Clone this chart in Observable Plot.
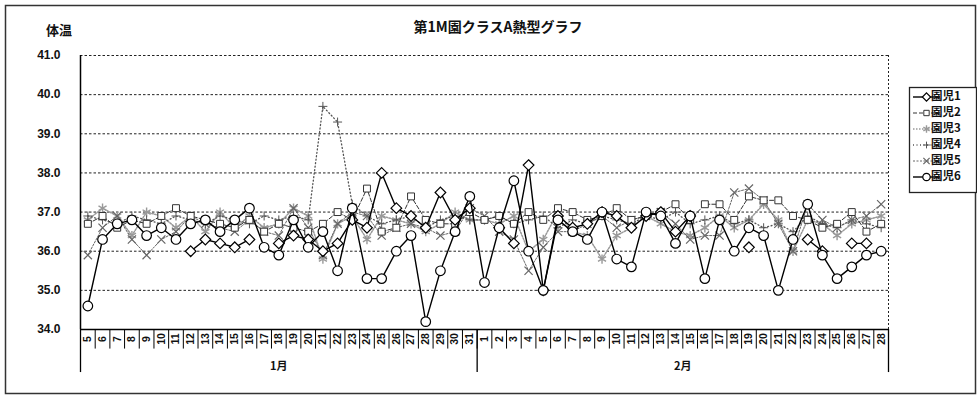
<!DOCTYPE html>
<html><head><meta charset="utf-8">
<script src="https://cdn.jsdelivr.net/npm/d3@7"></script>
<script src="https://cdn.jsdelivr.net/npm/@observablehq/plot@0.6"></script>
<style>
body{margin:0;background:#fff}
#chart{position:relative;width:977px;height:397px}
</style>
</head><body><div id="chart"></div>
<script>
const title = "第1M園クラスA熱型グラフ";
const yLabel = "体温";
const janDays = [5,6,7,8,9,10,11,12,13,14,15,16,17,18,19,20,21,22,23,24,25,26,27,28,29,30,31];
const febDays = [1,2,3,4,5,6,7,8,9,10,11,12,13,14,15,16,17,18,19,20,21,22,23,24,25,26,27,28];
const months = ["1月","2月"];
const yTicks = [34,35,36,37,38,39,40,41];
const names = ["園児1","園児2","園児3","園児4","園児5","園児6"];

const child1 = [null,null,null,null,null,null,null,36.0,36.3,36.2,36.1,36.3,null,36.2,36.4,36.3,36.0,36.2,36.8,36.6,38.0,37.1,36.9,36.6,37.5,36.8,37.1,
  null,36.6,36.2,38.2,35.0,36.9,36.6,36.7,37.0,36.9,36.6,36.9,37.0,36.5,36.9,null,null,null,36.1,null,null,null,36.3,36.0,null,36.2,36.2,null];
const child2 = [36.7,36.9,36.6,36.8,36.7,36.9,37.1,36.9,36.8,36.7,36.6,36.8,36.5,36.7,36.6,36.5,36.7,37.0,36.8,37.6,36.5,36.6,37.4,36.8,36.7,36.7,37.0,
  36.8,36.9,36.7,37.0,36.8,37.1,37.0,36.8,36.9,37.1,36.8,36.9,37.0,37.2,36.8,37.2,37.2,36.8,37.4,37.3,37.3,36.9,36.8,36.6,36.7,37.0,36.5,36.7];
const child3 = [36.8,37.1,36.9,36.4,37.0,36.9,36.6,36.9,36.5,37.0,36.6,36.9,36.6,36.7,37.1,36.9,35.8,36.7,36.9,36.3,36.9,36.8,36.7,36.5,36.7,37.0,36.8,
  36.8,36.7,36.9,36.0,36.3,37.0,36.5,36.4,35.8,36.4,36.6,36.9,36.7,36.5,36.4,36.6,36.9,36.6,36.8,37.2,36.8,36.0,36.8,36.7,36.4,36.7,36.8,36.9];
const child4 = [36.9,36.8,36.7,36.9,36.8,36.7,36.9,36.8,36.7,36.9,36.8,36.7,36.9,36.8,36.9,36.8,39.7,39.3,37.2,36.9,36.7,36.8,36.9,36.6,36.8,36.9,36.8,
  36.8,36.9,36.7,36.8,36.9,36.6,36.8,36.7,36.9,36.8,36.7,36.9,36.8,37.0,36.7,36.8,36.9,36.7,36.8,36.6,36.7,36.5,36.9,36.7,36.6,36.8,36.7,36.6];
const child5 = [35.9,36.6,36.9,36.3,35.9,36.3,36.5,36.9,36.7,36.6,36.5,36.8,36.5,36.4,37.1,36.6,35.9,36.7,37.0,36.9,36.4,36.6,36.7,36.6,36.4,36.5,37.1,
  36.9,36.5,36.3,35.5,36.1,36.5,36.5,36.7,36.9,36.6,36.8,36.9,37.0,36.7,36.3,36.4,36.4,37.5,37.6,37.3,36.7,36.0,37.2,36.8,36.6,36.8,36.9,37.2];
const child6 = [34.6,36.3,36.7,36.8,36.4,36.6,36.3,36.7,36.8,36.5,36.8,37.1,36.1,35.9,36.8,36.1,36.5,35.5,37.1,35.3,35.3,36.0,36.4,34.2,35.5,36.5,37.4,
  35.2,36.6,37.8,36.0,35.0,36.8,36.5,36.3,37.0,35.8,35.6,37.0,36.9,36.2,36.9,35.3,36.8,36.0,36.6,36.4,35.0,36.3,37.2,35.9,35.3,35.6,35.9,36.0];

const series = [child1, child2, child3, child4, child5, child6];
const days = [...janDays, ...febDays].map(String);
const nDays = days.length;

const styles = [
  {stroke:"#000", dash:null, width:1.4, symbol:"diamond2", r:4.8, fill:"white", mw:1.2},
  {stroke:"#333", dash:"4,2", width:1, symbol:"square2", r:4.4, fill:"white", mw:1},
  {stroke:"#999", dash:"1.5,1.5", width:1.5, symbol:"asterisk", r:4.4, fill:"none", mw:1.4},
  {stroke:"#555", dash:"1,2.5", width:1.3, symbol:"plus", r:3, fill:"none", mw:1},
  {stroke:"#666", dash:"2,1.5", width:1, symbol:"times", r:3.8, fill:"none", mw:1.2},
  {stroke:"#000", dash:null, width:1.4, symbol:"circle", r:4.8, fill:"white", mw:1.2}
];

const drawOrder = [2,3,4,1,0,5];
const seriesMarks = [];
for (const k of drawOrder) {
  const pts = series[k].map((v,i)=>({i:i+0.5, v}));
  const s = styles[k];
  seriesMarks.push(Plot.line(pts, {x:"i", y:"v", stroke:s.stroke, strokeWidth:s.width, strokeDasharray:s.dash}));
  seriesMarks.push(Plot.dot(pts.filter(d=>d.v!=null), {x:"i", y:"v", symbol:s.symbol, r:s.r, stroke:s.stroke, fill:s.fill, strokeWidth:s.mw}));
}

const bold = "bold";
const plot = Plot.plot({
  width: 977, height: 397,
  marginLeft: 80, marginRight: 89, marginTop: 55, marginBottom: 68,
  x: {domain:[0, nDays], axis:null},
  y: {domain:[34, 41], axis:null},
  style: {background:"white", fontFamily:"'Liberation Sans', Arial, sans-serif", overflow:"visible"},
  marks: [
    Plot.ruleY(yTicks.filter(t=>t>34), {stroke:"#222", strokeDasharray:"2.5,2", strokeWidth:1}),
    Plot.ruleX([nDays], {y1:34, y2:41, stroke:"#222", strokeDasharray:"2,2", strokeWidth:1}),
    ...seriesMarks,
    Plot.ruleX(d3.range(1, nDays), {y1:33.5, y2:34, stroke:"#000", strokeWidth:1}),
    Plot.ruleX([0, janDays.length, nDays], {y1:32.9, y2:34, stroke:"#000", strokeWidth:1.3}),
    Plot.ruleX([0], {y1:34, y2:41, stroke:"#000", strokeWidth:1.5}),
    Plot.ruleY([34], {x1:0, x2:nDays, stroke:"#000", strokeWidth:1.5}),
    Plot.text(yTicks, {x:0, y:d=>d, text:d=>d.toFixed(1), textAnchor:"end", dx:-20, fontSize:12, fontWeight:bold, fill:"#111"}),
    Plot.text(days, {x:(d,i)=>i+0.5, y:34, text:d=>d, rotate:-90, dy:9.5, fontSize:10.5, fontWeight:bold, fill:"#111"}),
    Plot.text(months, {x:(d,i)=> i===0 ? janDays.length/2 : janDays.length + febDays.length/2, y:34, dy:37, text:d=>d, fontSize:11, fontWeight:bold, fill:"#111", fontFamily:"'Noto Sans CJK JP', sans-serif"})
  ]
});

const svg = d3.select(plot);
svg.insert("rect", ":first-child").attr("x",5.5).attr("y",5.5).attr("width",970).attr("height",388)
   .attr("fill","white").attr("stroke","#333").attr("stroke-width",1.5);
svg.append("text").attr("x",498).attr("y",28).attr("text-anchor","middle").attr("dominant-baseline","middle")
   .attr("font-family","'Noto Sans CJK JP', sans-serif").attr("font-weight","bold").attr("font-size",14).attr("fill","#111").text(title);
svg.append("text").attr("x",59).attr("y",31).attr("text-anchor","middle").attr("dominant-baseline","middle")
   .attr("font-family","'Noto Sans CJK JP', sans-serif").attr("font-weight","bold").attr("font-size",13).attr("fill","#111").text(yLabel);

// legend
const lg = svg.append("g");
lg.append("rect").attr("x",909.5).attr("y",87.5).attr("width",67).attr("height",105).attr("fill","white").attr("stroke","#222").attr("stroke-width",1.3);
const symMap = {diamond2:d3.symbolDiamond2, square2:d3.symbolSquare2, asterisk:d3.symbolAsterisk, plus:d3.symbolPlus, times:d3.symbolTimes, circle:d3.symbolCircle};
names.forEach((n,k)=>{
  const s = styles[k];
  const y = 97 + k*16;
  lg.append("line").attr("x1",913).attr("x2",940).attr("y1",y).attr("y2",y)
    .attr("stroke",s.stroke).attr("stroke-width",s.width).attr("stroke-dasharray",s.dash);
  lg.append("path").attr("transform",`translate(926.5,${y})`)
    .attr("d", d3.symbol(symMap[s.symbol], Math.PI*s.r*s.r*0.6)())
    .attr("fill",s.fill).attr("stroke",s.stroke).attr("stroke-width",s.mw);
  lg.append("text").attr("x",946).attr("y",y).attr("dominant-baseline","middle")
    .attr("font-family","'Noto Sans CJK JP', sans-serif").attr("font-weight","bold").attr("font-size",11.5).attr("fill","#111").text(n);
});

document.getElementById("chart").appendChild(plot);
</script>
</body></html>
